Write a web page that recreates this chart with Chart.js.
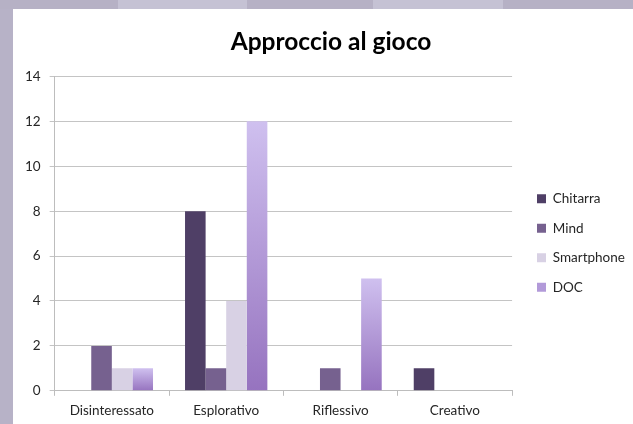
<!DOCTYPE html>
<html>
<head>
<meta charset="utf-8">
<script src="https://cdn.jsdelivr.net/npm/chart.js@4/dist/chart.umd.min.js"></script>
<style>
  html, body { margin: 0; padding: 0; }
  body {
    width: 633px; height: 424px; overflow: hidden; position: relative;
    background: #b7b2c7;
  }
  #strip {
    position: absolute; left: 0; top: 0; width: 633px; height: 9px;
    background: linear-gradient(to right, #b6b1c5 0 118px, #c5c2d4 118px 247px, #b6b1c5 247px 373px, #c5c2d4 373px 503px, #b6b1c5 503px);
  }
  #frame {
    position: absolute; left: 13px; top: 9px; width: 634px; height: 423px;
    background: #fff;
  }
</style>
</head>
<body>
<div id="strip"></div>
<div id="frame"><canvas id="chart"></canvas></div>
<script>
// Approccio al gioco
const categories = ['Disinteressato', 'Esplorativo', 'Riflessivo', 'Creativo'];
const chitarra = [0, 8, 0, 1];
const mind = [2, 1, 1, 0];
const smartphone = [1, 4, 0, 0];
const doc = [1, 12, 5, 0];
const yTicks = [0, 2, 4, 6, 8, 10, 12, 14];

const FONT = 'Lato, "Open Sans", sans-serif';
const FSIZE = 13.5;
const DOC_SWATCH = '#b29ad9';

// vertical gradient per bar for the DOC series
function docGradient(context) {
  const chart = context.chart;
  const y = chart.scales.y;
  if (!chart.chartArea || !y || context.raw === undefined) return DOC_SWATCH;
  const top = y.getPixelForValue(context.raw);
  const bottom = y.getPixelForValue(0);
  if (!isFinite(top) || top === bottom) return DOC_SWATCH;
  const g = chart.ctx.createLinearGradient(0, top, 0, bottom);
  g.addColorStop(0, '#cfc0ef');
  g.addColorStop(1, '#9673bf');
  return g;
}

// legend: reserve a bit more room (keeps the title centred like the reference)
// and put the block where it sits in the reference
const legendPlace = {
  id: 'legendPlace',
  afterInit(chart) {
    const lg = chart.legend;
    if (!lg) return;
    const fit = lg.fit;
    lg.fit = function () { fit.call(this); this.width += 20; };
  },
  beforeDraw(chart) {
    const lg = chart.legend;
    if (!lg) return;
    const w = lg.right - lg.left;
    const h = lg.bottom - lg.top;
    lg.left = 508; lg.right = lg.left + w;
    lg.top = 167; lg.bottom = lg.top + h;
  }
};

const ctx = document.getElementById('chart');
new Chart(ctx, {
  type: 'bar',
  data: {
    labels: categories,
    datasets: [
      { label: 'Chitarra', data: chitarra, backgroundColor: '#4f3f66' },
      { label: 'Mind', data: mind, backgroundColor: '#76618f' },
      { label: 'Smartphone', data: smartphone, backgroundColor: '#d8d1e4' },
      { label: 'DOC', data: doc, backgroundColor: docGradient }
    ]
  },
  plugins: [legendPlace],
  options: {
    responsive: true,
    maintainAspectRatio: false,
    animation: false,
    datasets: {
      bar: { categoryPercentage: 0.72, barPercentage: 1.0 }
    },
    layout: { padding: { left: 3, right: 1, bottom: 6, top: 0 } },
    scales: {
      x: {
        grid: { display: true, drawOnChartArea: false, color: '#bdbdbd', tickLength: 5, offset: true },
        border: { color: '#bdbdbd' },
        ticks: { color: '#262626', font: { family: FONT, size: FSIZE }, padding: 7 }
      },
      y: {
        min: 0,
        max: 14,
        afterBuildTicks: (axis) => { axis.ticks = yTicks.map(v => ({ value: v })); },
        grid: { color: '#c4c4c4', tickLength: 5 },
        border: { color: '#bdbdbd' },
        ticks: { color: '#262626', font: { family: FONT, size: FSIZE }, padding: 9 }
      }
    },
    plugins: {
      title: {
        display: true,
        text: 'Approccio al gioco',
        color: '#000',
        font: { family: FONT, size: 24.5, weight: 'bold' },
        padding: { top: 18.5, bottom: 19.5 }
      },
      legend: {
        position: 'right',
        align: 'start',
        labels: {
          boxWidth: 9,
          boxHeight: 9,
          padding: 16,
          color: '#262626',
          font: { family: FONT, size: FSIZE },
          generateLabels: (chart) => {
            const items = Chart.defaults.plugins.legend.labels.generateLabels(chart);
            items.forEach(it => {
              if (it.text === 'DOC') { it.fillStyle = DOC_SWATCH; }
              it.lineWidth = 0;
            });
            return items;
          }
        }
      },
      tooltip: { enabled: false }
    }
  }
});
</script>
</body>
</html>
